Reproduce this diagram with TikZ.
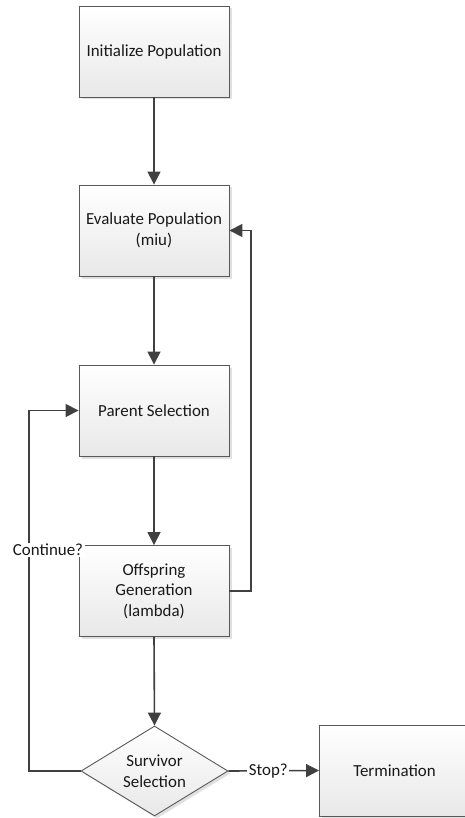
\documentclass[tikz,border=0pt]{standalone}
\usepackage{fontspec}
\setmainfont{Carlito}
\usetikzlibrary{shapes.geometric,shadows,arrows.meta}

\tikzset{
  kasten/.style={draw=black!65, line width=0.9pt, top color=white, bottom color=black!9,
    minimum width=150pt, minimum height=91pt, inner sep=0pt, align=center,
    text=black!90, font=\fontsize{16.9}{20.5}\selectfont,
    drop shadow={shadow xshift=2.5pt, shadow yshift=-2.5pt, fill=black!12, opacity=1}},
  raute/.style={kasten, diamond, aspect=1.63, minimum width=147pt, minimum height=90pt},
  pfeil/.style={draw=black!75, line width=1.6pt, -{Triangle[length=13pt,width=13pt]}},
  marke/.style={fill=white, inner sep=1.5pt, text=black!90, font=\fontsize{16.9}{20.5}\selectfont}
}

\begin{document}
\begin{tikzpicture}[x=1pt,y=-1pt]
  \useasboundingbox (0,0) rectangle (465,818);
  % Kaesten
  \node[kasten] (init) at (154,51.5) {Initialize Population};
  \node[kasten] (eval) at (154,230.5) {Evaluate Population\\(miu)};
  \node[kasten] (parent) at (154,410.5) {Parent Selection};
  \node[kasten] (offspring) at (154,591) {Offspring\\Generation\\(lambda)};
  \node[raute] (survivor) at (154.5,771) {Survivor\\Selection};
  \node[kasten] (term) at (394.5,770.5) {Termination};
  % Hauptlinie
  \draw[pfeil] (init.south) -- (eval.north);
  \draw[pfeil] (eval.south) -- (parent.north);
  \draw[pfeil] (parent.south) -- (offspring.north);
  \draw[pfeil] (offspring.south) -- (survivor.north);
  % Schleifen
  \coordinate (rloop) at (251,0);
  \coordinate (lloop) at (29,0);
  \draw[pfeil] (offspring.east) -| (rloop |- eval.east) -- (eval.east);
  \draw[pfeil] (survivor.west) -| (lloop |- parent.west) -- (parent.west);
  \node[marke] (cont) at (48,550) {Continue?};
  % Ende
  \draw[pfeil] (survivor.east) -- node[marke, pos=0.44] (stop) {Stop?} (term.west);
\end{tikzpicture}
\end{document}
